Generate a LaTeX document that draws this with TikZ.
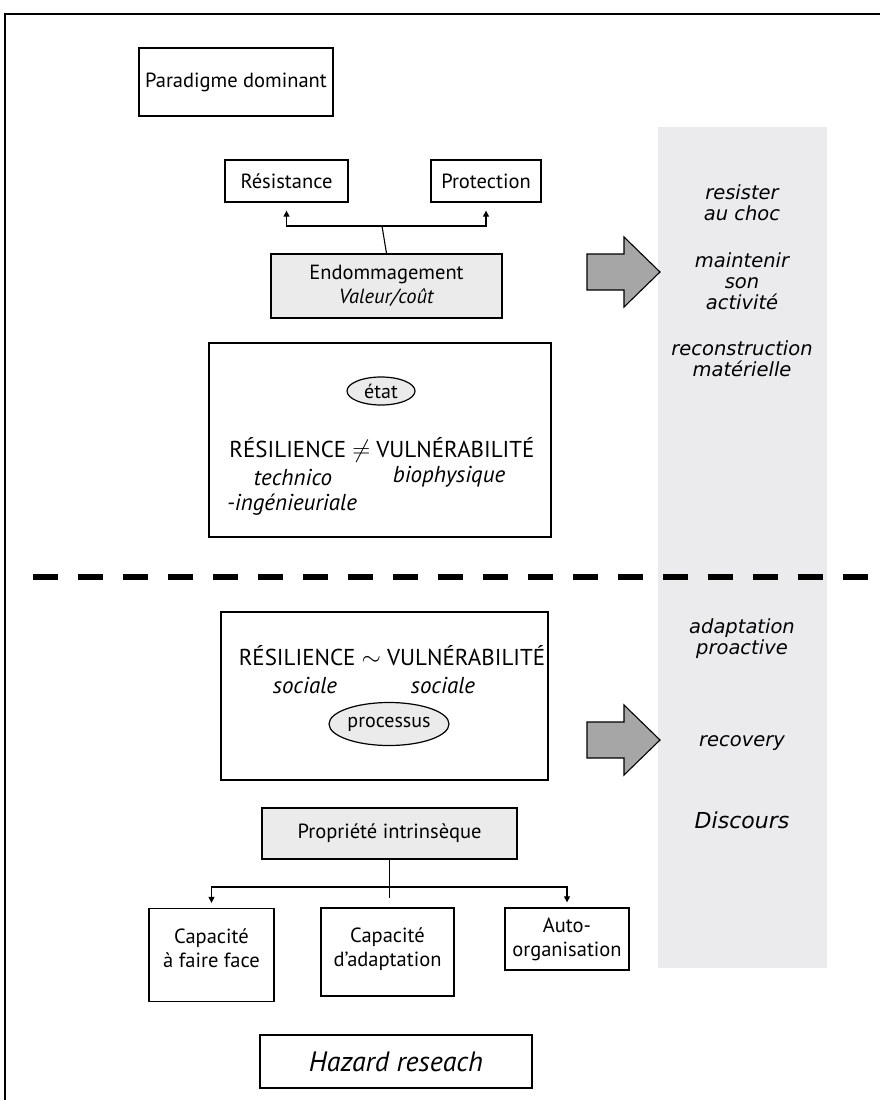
\documentclass[tikz,border=0pt]{standalone}
\usepackage{fontspec}
\setmainfont{PT Sans}
\newfontfamily\colfont{DejaVu Sans}
\usetikzlibrary{arrows.meta,shapes.geometric}
\definecolor{boxgray}{HTML}{EBEBEB}
\definecolor{colgray}{HTML}{EBEBED}
\definecolor{arrowgray}{HTML}{A6A6A6}
\tikzset{
  frame/.style={draw,line width=1.3pt,inner sep=0pt,align=center,font=\fontsize{20.5}{24}\selectfont},
  filled/.style={frame,fill=boxgray},
  oval/.style={draw,ellipse,line width=1.2pt,fill=boxgray,inner sep=0pt,font=\fontsize{20}{22}\selectfont},
  big/.style={font=\fontsize{23}{26}\selectfont},
  small/.style={font=\fontsize{23}{26}\selectfont\itshape},
  coltext/.style={align=center,font=\colfont\itshape\fontsize{19.5}{21}\selectfont},
  link/.style={line width=1.1pt},
  tip/.style={link,-{Triangle[length=6pt,width=6pt]}}
}
\begin{document}
\begin{tikzpicture}[x=1pt,y=-1pt]
\useasboundingbox (0,0) rectangle (880,1100);
\draw[line width=2pt] (880,14) -- (5,14) -- (5,1100);
\fill[colgray] (658,127) rectangle (827,968);

\node[frame,minimum width=194,minimum height=68,font=\fontsize{20.5}{24}\selectfont] (para) at (236,82) {Paradigme dominant};
\node[frame,minimum width=123,minimum height=42] (resist) at (286.5,181) {Résistance};
\node[frame,minimum width=110,minimum height=42] (protect) at (486,181) {Protection};
\node[filled,minimum width=231,minimum height=64] (endo) at (386.5,286) {Endommagement\\\textit{Valeur/coût}};
\draw[link] (endo.north) -- (382,226) coordinate (split1);
\draw[tip,shorten >=8pt] (split1) -| (resist.south);
\draw[tip,shorten >=8pt] (split1) -| (protect.south);

\node[frame,minimum width=342,minimum height=194] (state) at (380,440) {};
\node[oval,minimum width=68,minimum height=28] (etat) at (381,391) {état};
\node[big] (tech) at (382,450) {RÉSILIENCE $\neq$ VULNÉRABILITÉ};
\node[small] (technico) at (293,477) {technico};
\node[small] (ingenieur) at (292,505) {-ingénieuriale};
\node[small] (biophys) at (449,477) {biophysique};

\draw[line width=6pt,dash pattern=on 25pt off 20pt] (33,577) -- (880,577);

\node[frame,minimum width=327,minimum height=168] (process) at (384.5,696) {};
\node[big] (social) at (392,656) {RÉSILIENCE $\sim$ VULNÉRABILITÉ};
\node[small] (sociale1) at (305,685) {sociale};
\node[small] (sociale2) at (443,685) {sociale};
\node[oval,minimum width=120,minimum height=43] (processus) at (389,724) {processus};

\node[filled,minimum width=255,minimum height=51] (prop) at (389.5,833.5) {Propriété intrinsèque};
\node[frame,minimum width=125,minimum height=93,text depth=14pt] (cap1) at (211.5,955) {Capacité\\à faire face};
\node[frame,minimum width=133,minimum height=88,text depth=10pt] (cap2) at (387.5,952) {Capacité\\d’adaptation};
\node[frame,minimum width=124,minimum height=62] (auto) at (567,939) {Auto-\\organisation};
\draw[link,shorten >=9pt] (prop.south) -- (prop.south |- cap2.north);
\coordinate (split2) at (prop.south |- 0,887);
\draw[tip,shorten >=5pt] (split2) -| (cap1.north);
\draw[tip,shorten >=5pt] (split2) -| (auto.north);

\node[frame,minimum width=272,minimum height=53,font=\fontsize{28}{30}\selectfont\itshape] (hazard) at (396,1061.5) {Hazard reseach};

\foreach \y in {272,740}
  \draw[line width=1.1pt,fill=arrowgray] (587,\y-18) -- (624,\y-18) -- (624,\y-35) -- (660,\y) -- (624,\y+35) -- (624,\y+18) -- (587,\y+18) -- cycle;

\node[coltext] (resister) at (742,203) {resister\\au choc};
\node[coltext] (maintenir) at (742,281) {maintenir\\son\\activité};
\node[coltext] (reconst) at (742,359) {reconstruction\\matérielle};
\node[coltext] (adapt) at (742,639) {adaptation\\proactive};
\node[coltext] (recovery) at (742,743) {recovery};
\node[coltext,font=\colfont\itshape\fontsize{22}{24}\selectfont] (discours) at (742,820) {Discours};
\end{tikzpicture}
\end{document}
